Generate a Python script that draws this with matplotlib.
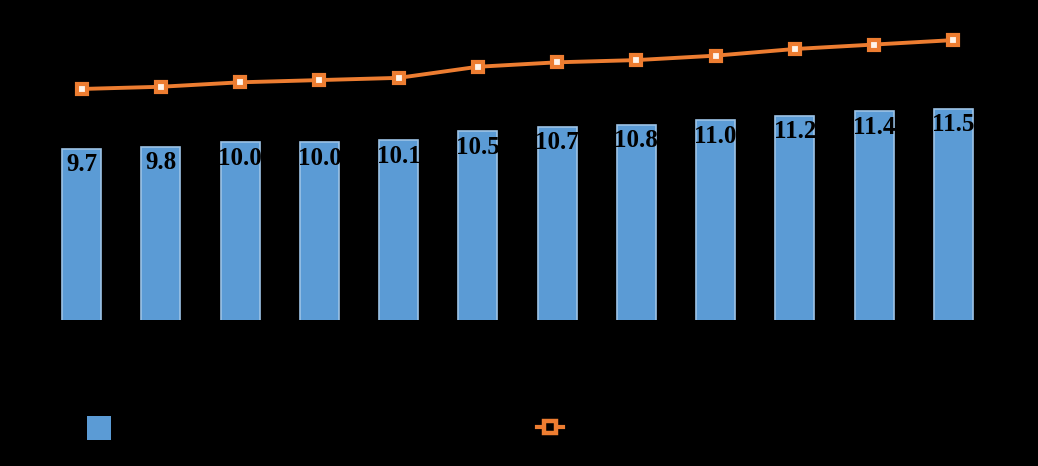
import matplotlib
matplotlib.use("Agg")
import matplotlib.pyplot as plt
import numpy as np
from matplotlib.patches import Patch
from matplotlib.lines import Line2D

categories = ["2011", "2012", "2013", "2014", "2015", "2016", "2017",
              "2018", "2019", "2020", "2021", "2022"]
bar_values = [9.7, 9.8, 10.0, 10.0, 10.1, 10.5, 10.7, 10.8, 11.0, 11.2, 11.4, 11.5]
line_values = [12.4, 12.5, 12.7, 12.8, 12.9, 13.4, 13.6, 13.7, 13.9, 14.2, 14.4, 14.6]
bar_label = "Series 1"
line_label = "Series 2"

W, H = 1038, 466
fig = plt.figure(figsize=(W / 100, H / 100), dpi=100, facecolor="black")
ax = fig.add_axes([42 / W, (H - 320) / H, (993 - 42) / W, (320 - 9) / H])
ax.set_facecolor("black")

x = np.arange(len(categories))
ax.bar(x, bar_values, width=0.49, color="#5B9BD5", edgecolor="#9DC3E6",
       linewidth=1.2, label=bar_label, zorder=2)
ax.plot(x, line_values, color="#ED7D31", linewidth=2.8, marker="s", markersize=7,
        markerfacecolor="#FFF4EA", markeredgecolor="#ED7D31", markeredgewidth=3.0,
        label=line_label, zorder=3)

ax.set_xlim(-0.5, len(categories) - 0.5)
ax.set_ylim(2, 16)
ax.set_xticks(x)
ax.set_xticklabels(categories, color="black", fontsize=11)
ax.tick_params(axis="both", length=0, colors="black")
ax.set_yticks([])
for s in ax.spines.values():
    s.set_visible(False)

for xi, v in zip(x, bar_values):
    ax.annotate(f"{v:.1f}", (xi, v), xytext=(0, -11.5), textcoords="offset points",
                ha="center", va="center", fontsize=18, fontweight="bold",
                family="Liberation Serif", color="black", zorder=4)

bar_handle = Patch(facecolor="#5B9BD5", edgecolor="none", label=bar_label)
leg1 = fig.legend(handles=[bar_handle], loc="center left",
                  bbox_to_anchor=(87 / W, (H - 428) / H), frameon=False,
                  fontsize=14, labelcolor="black", handlelength=1.24,
                  handleheight=1.5, borderpad=0, borderaxespad=0)
line_handle = Line2D([], [], color="#ED7D31", linewidth=3, marker="s", markersize=8,
                     markerfacecolor="black", markeredgecolor="#ED7D31",
                     markeredgewidth=3.2, label=line_label)
leg2 = fig.legend(handles=[line_handle], loc="center left",
                  bbox_to_anchor=(537 / W, (H - 428) / H), frameon=False,
                  fontsize=14, labelcolor="black", handlelength=1.34,
                  borderpad=0, borderaxespad=0)
fig.add_artist(leg1)

fig.savefig("out.png", dpi=100, facecolor="black")
